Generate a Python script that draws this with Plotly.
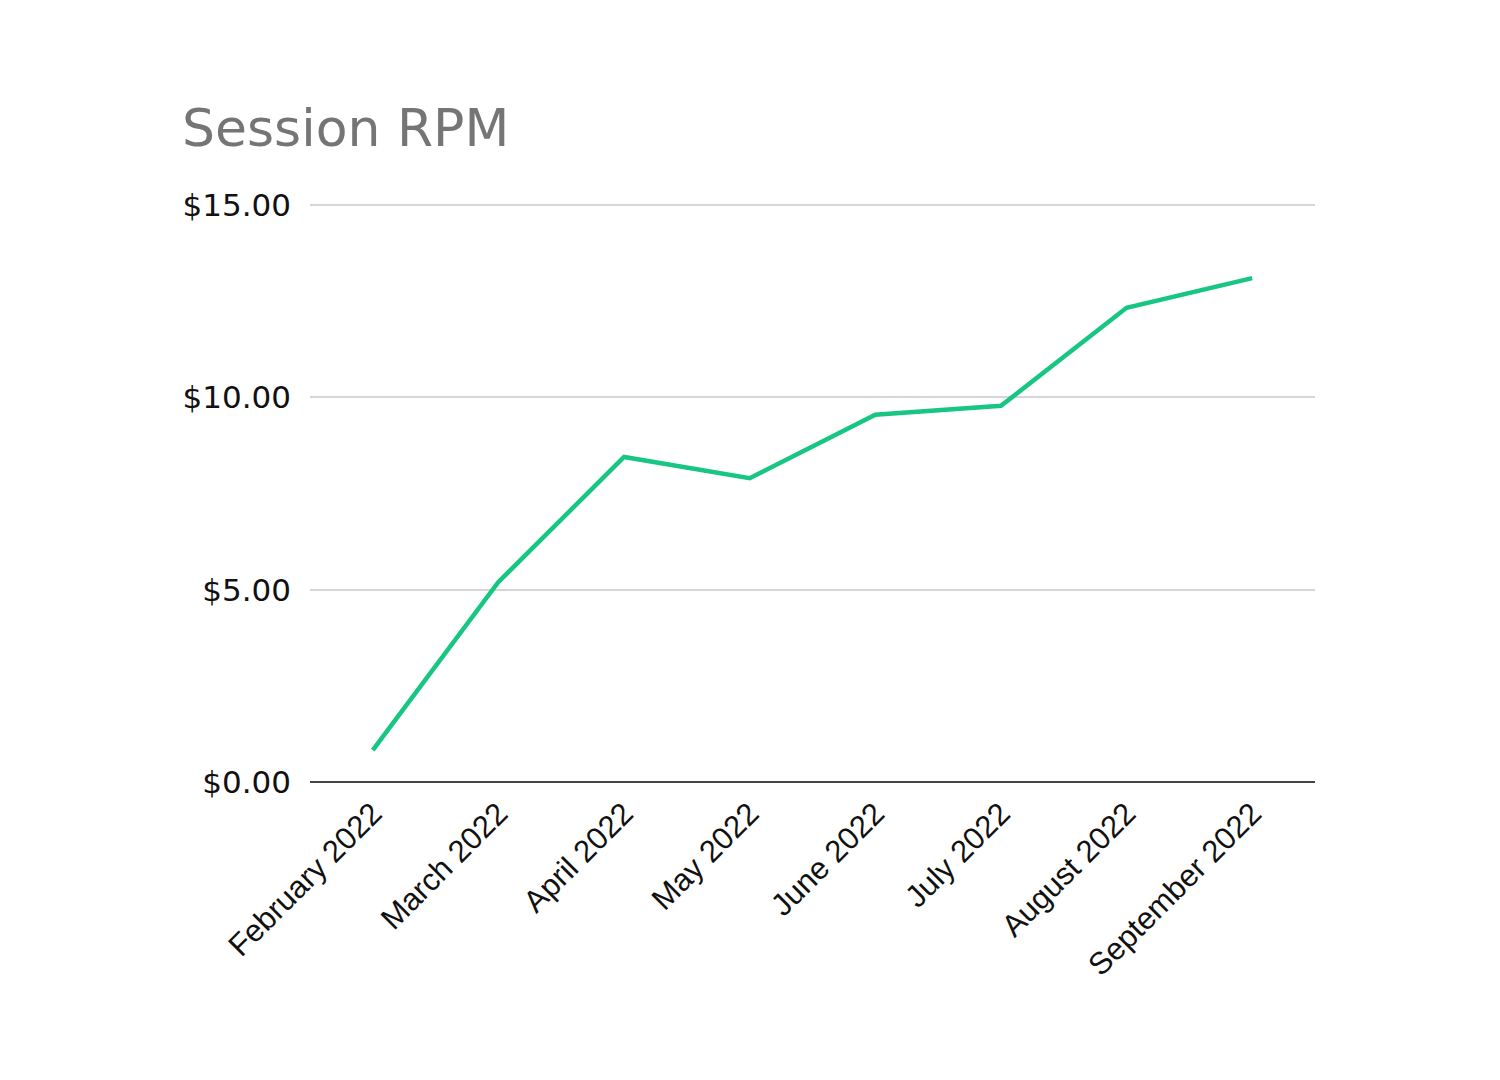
import plotly.graph_objects as go

months = ["February 2022", "March 2022", "April 2022", "May 2022",
          "June 2022", "July 2022", "August 2022", "September 2022"]
rpm = [0.83, 5.2, 8.45, 7.9, 9.55, 9.78, 12.33, 13.1]

y_ticks = [0, 5, 10, 15]
y_tick_labels = ["$0.00", "$5.00", "$10.00", "$15.00"]

fig = go.Figure()
fig.add_trace(go.Scatter(
    x=months, y=rpm, mode="lines",
    line=dict(color="#17c683", width=4.5),
    hoverinfo="x+y",
))

fig.update_layout(
    width=1500, height=1080,
    paper_bgcolor="white", plot_bgcolor="white",
    margin=dict(l=310, r=185, t=202, b=298),
    showlegend=False,
    title=dict(
        text="Session RPM",
        font=dict(family="DejaVu Sans", size=52, color="#757575"),
        xref="container", yref="container",
        x=182/1500, xanchor="left",
        y=1 - 110/1080, yanchor="top",
    ),
)

fig.update_yaxes(
    range=[0, 15.08],
    tickvals=y_ticks, ticktext=y_tick_labels,
    tickfont=dict(family="DejaVu Sans", size=31, color="#111111"),
    showgrid=True, gridcolor="#d6d6d6", gridwidth=2,
    zeroline=True, zerolinecolor="#444444", zerolinewidth=2,
    showline=False, ticks="", ticklabelstandoff=18,
)
fig.update_xaxes(
    type="category", range=[-0.5, 7.5],
    tickangle=-45,
    tickfont=dict(family="Liberation Sans", size=31, color="#111111"),
    showgrid=False, showline=False, ticks="", ticklabelstandoff=6,
)

fig.write_html("out.html")
